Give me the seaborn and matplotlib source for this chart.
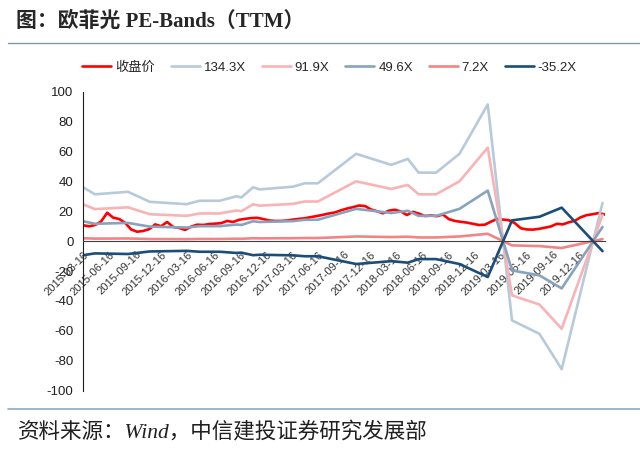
import matplotlib
matplotlib.use('Agg')
import matplotlib.pyplot as plt
from matplotlib.lines import Line2D
import pandas as pd
import seaborn as sns

# quarterly tick labels on the date axis
tick_labels = ['2015-03-16', '2015-06-16', '2015-09-16', '2015-12-16',
               '2016-03-16', '2016-06-16', '2016-09-16', '2016-12-16',
               '2017-03-16', '2017-06-16', '2017-09-16', '2017-12-16',
               '2018-03-16', '2018-06-16', '2018-09-16', '2018-12-16',
               '2019-03-16', '2019-06-16', '2019-09-16', '2019-12-16']

# close price, one reading every three weeks from 2015-03-16
price_start = '2015-03-16'
price = [10.6, 9.9, 10.8, 13.2, 19.0, 15.7, 14.8, 12.2, 7.8, 6.3,
         6.8, 8.0, 11.2, 10.0, 12.8, 9.5, 8.8, 7.5, 9.7, 11.0,
         10.8, 11.4, 11.7, 12.0, 13.5, 12.8, 14.3, 14.9, 15.4, 15.6,
         14.8, 13.8, 13.5, 13.5, 13.8, 14.4, 14.9, 15.3, 16.1, 16.8,
         17.6, 18.5, 19.2, 20.6, 21.8, 22.7, 23.8, 23.5, 21.2, 20.0,
         18.6, 20.4, 21.0, 19.8, 17.5, 19.6, 18.4, 16.8, 17.2, 16.7,
         17.8, 14.7, 13.5, 12.9, 12.4, 11.6, 10.8, 11.0, 13.0, 14.8,
         14.4, 14.0, 12.0, 8.6, 7.8, 7.7, 8.2, 9.0, 9.8, 11.6,
         11.2, 12.6, 13.6, 16.0, 17.4, 18.0, 18.8, 17.8]

# PE band vertices
band_dates = ['2015-03-16', '2015-04-26', '2015-08-20', '2015-11-04', '2016-03-12',
              '2016-04-27', '2016-07-06', '2016-09-03', '2016-09-20', '2016-10-31',
              '2016-11-23', '2017-03-20', '2017-04-30', '2017-06-15', '2017-10-27',
              '2018-02-27', '2018-04-26', '2018-06-03', '2018-08-03', '2018-10-24',
              '2019-01-31', '2019-04-26', '2019-07-31', '2019-10-17', '2020-03-08']
band_134 = [36.0, 31.3, 33.0, 26.3, 24.7, 27.0, 27.0, 30.0, 29.2, 36.0,
            34.6, 36.4, 38.7, 38.7, 58.4, 51.0, 55.0, 45.8, 45.8, 58.4,
            91.4, -53.0, -62.0, -85.6, 25.6]
band_92 = [24.6, 21.4, 22.6, 18.0, 16.9, 18.5, 18.5, 20.5, 20.0, 24.6,
           23.7, 24.9, 26.5, 26.5, 40.0, 34.9, 37.6, 31.3, 31.3, 40.0,
           62.5, -36.3, -42.4, -58.6, 17.5]
band_50 = [13.3, 11.6, 12.2, 9.7, 9.1, 10.0, 10.0, 11.1, 10.8, 13.3,
           12.8, 13.4, 14.3, 14.3, 21.6, 18.8, 20.3, 16.9, 16.9, 21.6,
           33.8, -19.6, -22.9, -31.6, 9.5]
band_7 = [1.93, 1.68, 1.77, 1.41, 1.32, 1.45, 1.45, 1.61, 1.57, 1.93,
          1.85, 1.95, 2.07, 2.07, 3.13, 2.73, 2.95, 2.46, 2.46, 3.13,
          4.90, -2.84, -3.32, -4.59, 1.37]
band_neg35 = [-9.4, -8.2, -8.6, -6.9, -6.5, -7.1, -7.1, -7.9, -7.7, -9.4,
              -9.1, -9.5, -10.1, -10.1, -15.3, -13.4, -14.4, -12.0, -12.0, -15.3,
              -24.0, 13.9, 16.3, 22.4, -6.7]

names = ['收盘价', '134.3X', '91.9X', '49.6X', '7.2X', '-35.2X']
colors = ['#FF0000', '#B7CADC', '#F9B3B5', '#87A3BE', '#F28486', '#1B4D7A']

sns.set_style('white')
plt.rcParams['font.family'] = ['Liberation Sans', 'Noto Sans CJK SC', 'DejaVu Sans']
plt.rcParams['axes.unicode_minus'] = False

fig = plt.figure(figsize=(6.4, 4.58), dpi=100)
ax = fig.add_axes([0.130, 0.147, 0.815, 0.653])

price_df = pd.DataFrame({'date': pd.date_range(price_start, periods=len(price), freq='21D'),
                         'value': price})
sns.lineplot(data=price_df, x='date', y='value', ax=ax, color=colors[0], lw=1.9,
             label=names[0])

band_x = pd.to_datetime(band_dates)
for name, vals, col in zip(names[1:], [band_134, band_92, band_50, band_7, band_neg35],
                           colors[1:]):
    sns.lineplot(x=band_x, y=vals, ax=ax, color=col, lw=1.9, label=name)

ax.set_ylim(-100, 100)
ax.set_yticks(range(-100, 101, 20))
ax.set_xlim(pd.Timestamp('2015-03-16'), pd.Timestamp('2020-03-16'))
ax.set_xticks(pd.to_datetime(tick_labels))
ax.set_xticklabels(tick_labels)
ax.set_xlabel('')
ax.set_ylabel('')
for sp in ['top', 'right']:
    ax.spines[sp].set_visible(False)
ax.spines['bottom'].set_position(('data', 0))
ax.spines['bottom'].set_color('#404040')
ax.spines['left'].set_color('#202020')
ax.tick_params(axis='y', direction='out', length=4, width=0.8, labelsize=9.5,
               colors='#202020', pad=3)
ax.tick_params(axis='x', direction='out', length=4, width=0.8, pad=2,
               labelsize=8, labelcolor='#333333', labelrotation=45)
for lab in ax.get_xticklabels():
    lab.set_ha('right')
    lab.set_va('top')
    lab.set_rotation_mode('anchor')

ax.get_legend().remove()
handles, labels = ax.get_legend_handles_labels()
fig.legend(handles, labels, loc='center', bbox_to_anchor=(0.515, 0.852), ncol=6,
           frameon=False, fontsize=9.5, handlelength=2.2, handletextpad=0.3,
           columnspacing=1.2)

fig.add_artist(Line2D([0.012, 1.0], [1 - 43 / 458] * 2, transform=fig.transFigure,
                      color='#8497AC', lw=1.0))
fig.add_artist(Line2D([0.012, 1.0], [1 - 409 / 458] * 2, transform=fig.transFigure,
                      color='#8EAAC4', lw=1.2))

fig.text(0.025, 1 - 22 / 458, '图：欧菲光 PE-Bands（TTM）', fontsize=15, fontweight='bold',
         family=['Liberation Serif', 'Noto Sans CJK SC'], va='center', ha='left')
fig.text(0.028, 1 - 433 / 458, '资料来源：Wind，中信建投证券研究发展部', fontsize=15.5,
         style='italic', family=['Liberation Serif', 'Noto Sans CJK SC'],
         va='center', ha='left', color='#202020')

fig.savefig('out.png', dpi=100)
